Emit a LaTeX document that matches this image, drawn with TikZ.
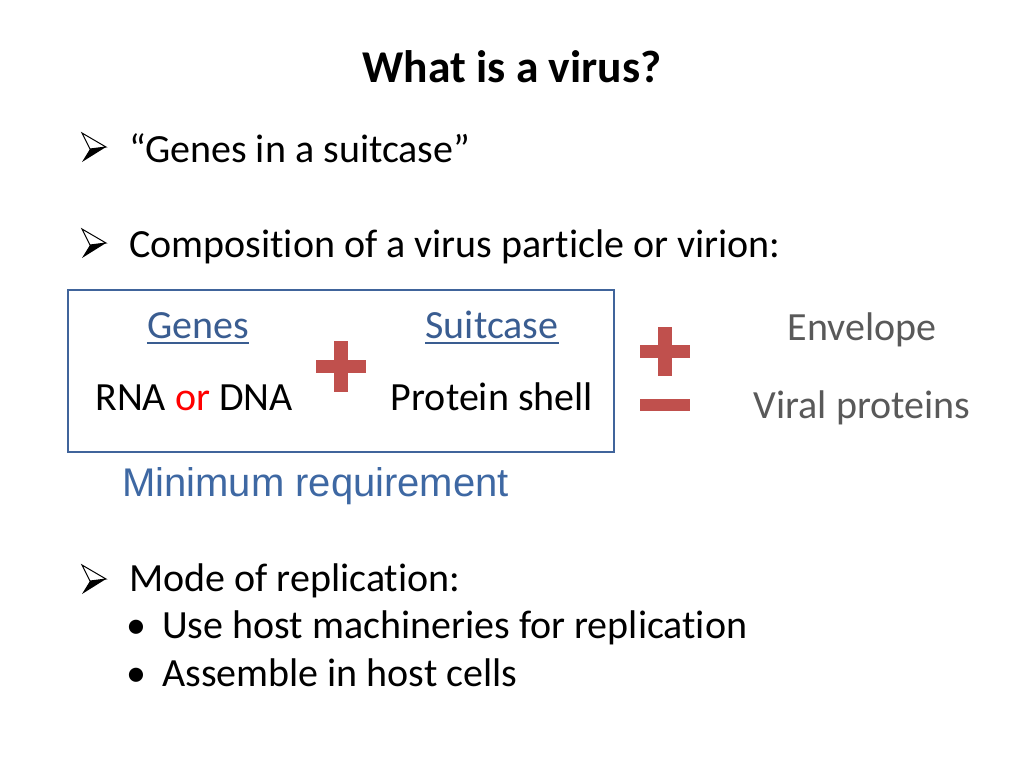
\documentclass[tikz,border=0pt]{standalone}
\usepackage{fontspec}
\setmainfont{Carlito}[Ligatures=NoCommon]
\newfontfamily\reqfont{Liberation Sans}
\definecolor{genesblue}{RGB}{58,93,145}
\definecolor{boxblue}{RGB}{64,100,155}
\definecolor{reqblue}{RGB}{62,104,163}
\definecolor{signred}{RGB}{192,80,77}
\definecolor{sidegray}{RGB}{89,89,89}
\definecolor{orred}{RGB}{255,0,0}

\begin{document}
\begin{tikzpicture}[x=1pt, y=-1pt,
    body/.style={anchor=base west, inner sep=0pt, font=\fontsize{40}{48}\selectfont},
    item/.style={anchor=base, inner sep=0pt, font=\fontsize{40}{48}\selectfont},
    arrowbullet/.pic={
        \draw[black, line width=1pt, line join=miter, fill=white] (-12,-14) -- (12,0) -- (-4,2) -- cycle;
        \fill[black] (-4,2) -- (12,0) -- (-12,15) -- cycle;
    }]
    \useasboundingbox (0,0) rectangle (1024,768);
    % Title
    \node[item, font=\fontsize{45.5}{54}\selectfont\bfseries] at (512,82) (title) {What is a virus?};

    % First points
    \pic at (94,147) {arrowbullet};
    \node[body] at (129,162) (suitcase) {“Genes in a suitcase”};
    \pic at (94,243) {arrowbullet};
    \node[body] at (129,257) (composition) {Composition of a virus particle or virion:};

    % Minimum requirement box
    \draw[boxblue, line width=2pt] (68,290) rectangle (614,452);
    \node[item, genesblue] at (198,338) (genes) {Genes};
    \node[item, genesblue] at (492,338) (suitcasehead) {Suitcase};
    \draw[genesblue, line width=2pt] ([yshift=-5pt]genes.base west) -- ([yshift=-5pt]genes.base east);
    \draw[genesblue, line width=2pt] ([yshift=-5pt]suitcasehead.base west) -- ([yshift=-5pt]suitcasehead.base east);
    \node[item] at (194,410) (rna) {RNA \textcolor{orred}{or} DNA};
    \node[item] at (492,410) (shell) {Protein shell};
    \fill[signred] (316,360) rectangle (366,373);
    \fill[signred] (334,341) rectangle (348,392);
    \node[anchor=base west, inner sep=0pt, reqblue, font=\fontsize{40}{48}\selectfont\reqfont] at (122,496) (minimum) {Minimum requirement};

    % Optional parts
    \fill[signred] (640,345) rectangle (690,358);
    \fill[signred] (658,327) rectangle (672,376);
    \fill[signred] (640,399) rectangle (690,411);
    \node[item, sidegray] at (862,340) (envelope) {Envelope};
    \node[item, sidegray] at (862,418) (viral) {Viral proteins};

    % Mode of replication
    \pic at (94,579) {arrowbullet};
    \node[body] at (129,591) (mode) {Mode of replication:};
    \node[item] at (136,638) (dotuse) {•};
    \node[body] at (162,638) (use) {Use host machineries for replication};
    \node[item] at (136,686) (dotassemble) {•};
    \node[body] at (162,686) (assemble) {Assemble in host cells};
\end{tikzpicture}
\end{document}
